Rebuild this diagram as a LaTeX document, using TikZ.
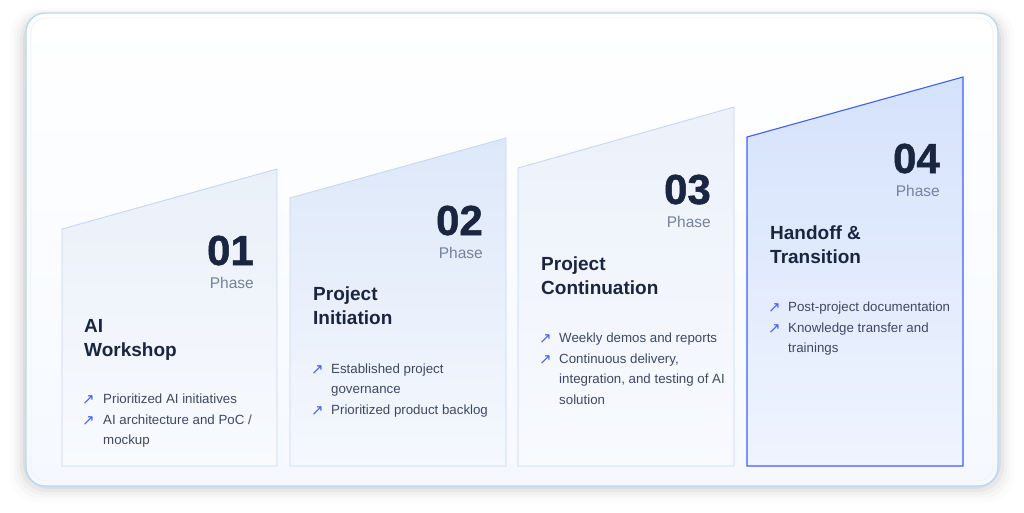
\documentclass[tikz,border=0pt]{standalone}
\usepackage{fontspec}
\setmainfont{Liberation Sans}
\newfontfamily\symfont{DejaVu Sans}
\newfontfamily\numfont{Liberation Sans Bold}[FakeBold=1.2]
\definecolor{navy}{HTML}{1A2540}
\definecolor{phasegrey}{HTML}{75829A}
\definecolor{bullettext}{HTML}{3E4960}
\definecolor{arrowblue}{HTML}{4A62F0}
\definecolor{cardline}{HTML}{C5D8F2}
\definecolor{activeline}{HTML}{3F5EF3}
\definecolor{frameline}{HTML}{B9D6F5}
\definecolor{frameinner}{HTML}{EEF3FA}
\definecolor{framebottom}{HTML}{F5F9FF}
\definecolor{cOneTop}{HTML}{EAF0F9}
\definecolor{cOneBot}{HTML}{F8FAFE}
\definecolor{cTwoTop}{HTML}{DDE8F9}
\definecolor{cTwoBot}{HTML}{F5F8FE}
\definecolor{cThreeTop}{HTML}{ECF1FA}
\definecolor{cThreeBot}{HTML}{F8FAFE}
\definecolor{cFourTop}{HTML}{D5E2FC}
\definecolor{cFourBot}{HTML}{EFF4FE}
\begin{document}
\begin{tikzpicture}[x=1pt,y=-1pt,
  numtext/.style={anchor=base east,inner sep=0,font=\numfont\fontsize{42}{44}\selectfont,text=navy},
  phasetext/.style={anchor=base east,inner sep=0,font=\fontsize{15.5}{18}\selectfont,text=phasegrey},
  titletext/.style={anchor=base west,inner sep=0,font=\fontsize{19}{22}\selectfont\bfseries,text=navy},
  itemtext/.style={anchor=base west,inner sep=0,font=\fontsize{13.3}{16}\selectfont,text=bullettext},
  itemarrow/.style={anchor=base west,inner sep=0,font=\symfont\fontsize{15}{16}\selectfont,text=arrowblue},
  cardshape/.style={draw=cardline,line width=0.9pt}
]
\useasboundingbox (0,0) rectangle (1024,512);
\fill[white] (0,0) rectangle (1024,512);
% soft shadow of the frame
\foreach \i/\o in {16/0.012,12/0.018,9/0.025,6/0.035,3/0.045}{
  \fill[black,opacity=\o,rounded corners=26pt] (26-\i,16-\i*0.5) rectangle (998+\i,486+\i);
}
% frame
\shade[top color=white,bottom color=framebottom,rounded corners=19pt]
  (26,13) rectangle (998,486);
\draw[frameline,line width=1.3pt,rounded corners=19pt] (26,13) rectangle (998,486);
\draw[frameinner,line width=0.8pt,rounded corners=15pt] (31,18) rectangle (993,481);

% card 1
\shade[top color=cOneTop,bottom color=cOneBot]
  (62,229) -- (277,169) -- (277,466) -- (62,466) -- cycle;
\draw[cardshape] (62,229) -- (277,169) -- (277,466) -- (62,466) -- cycle;
% card 2
\shade[top color=cTwoTop,bottom color=cTwoBot]
  (290,198) -- (506,138) -- (506,466) -- (290,466) -- cycle;
\draw[cardshape] (290,198) -- (506,138) -- (506,466) -- (290,466) -- cycle;
% card 3
\shade[top color=cThreeTop,bottom color=cThreeBot]
  (518,168) -- (734,107) -- (734,466) -- (518,466) -- cycle;
\draw[cardshape] (518,168) -- (734,107) -- (734,466) -- (518,466) -- cycle;
% card 4
\shade[top color=cFourTop,bottom color=cFourBot]
  (747,137) -- (963,77) -- (963,466) -- (747,466) -- cycle;
\draw[activeline,line width=1.1pt] (747,137) -- (963,77) -- (963,466) -- (747,466) -- cycle;

% ---- card 1 text
\node[numtext] (n1) at (254,265) {01};
\node[phasetext] (p1) at (254,288) {Phase};
\node[titletext] (t1a) at (84,332) {AI};
\node[titletext] (t1b) at (84,356) {Workshop};
\node[itemarrow] (a1a) at (82,404) {↗};
\node[itemtext] (b1a) at (103,403) {Prioritized AI initiatives};
\node[itemarrow] (a1b) at (82,425) {↗};
\node[itemtext] (b1b) at (103,424) {AI architecture and PoC /};
\node[itemtext] (b1c) at (103,444) {mockup};

% ---- card 2 text
\node[numtext] (n2) at (483,235) {02};
\node[phasetext] (p2) at (483,258) {Phase};
\node[titletext] (t2a) at (313,300) {Project};
\node[titletext] (t2b) at (313,324) {Initiation};
\node[itemarrow] (a2a) at (311,374) {↗};
\node[itemtext] (b2a) at (331,373) {Established project};
\node[itemtext] (b2b) at (331,393) {governance};
\node[itemarrow] (a2b) at (311,415) {↗};
\node[itemtext] (b2c) at (331,414) {Prioritized product backlog};

% ---- card 3 text
\node[numtext] (n3) at (711,204) {03};
\node[phasetext] (p3) at (711,227) {Phase};
\node[titletext] (t3a) at (541,270) {Project};
\node[titletext] (t3b) at (541,294) {Continuation};
\node[itemarrow] (a3a) at (539,343) {↗};
\node[itemtext] (b3a) at (559,342) {Weekly demos and reports};
\node[itemarrow] (a3b) at (539,364) {↗};
\node[itemtext] (b3b) at (559,363) {Continuous delivery,};
\node[itemtext] (b3c) at (559,383) {integration, and testing of AI};
\node[itemtext] (b3d) at (559,404) {solution};

% ---- card 4 text
\node[numtext] (n4) at (940,173) {04};
\node[phasetext] (p4) at (940,196) {Phase};
\node[titletext] (t4a) at (770,239) {Handoff \&};
\node[titletext] (t4b) at (770,263) {Transition};
\node[itemarrow] (a4a) at (768,312) {↗};
\node[itemtext] (b4a) at (788,311) {Post-project documentation};
\node[itemarrow] (a4b) at (768,333) {↗};
\node[itemtext] (b4b) at (788,332) {Knowledge transfer and};
\node[itemtext] (b4c) at (788,352) {trainings};
\end{tikzpicture}
\end{document}
